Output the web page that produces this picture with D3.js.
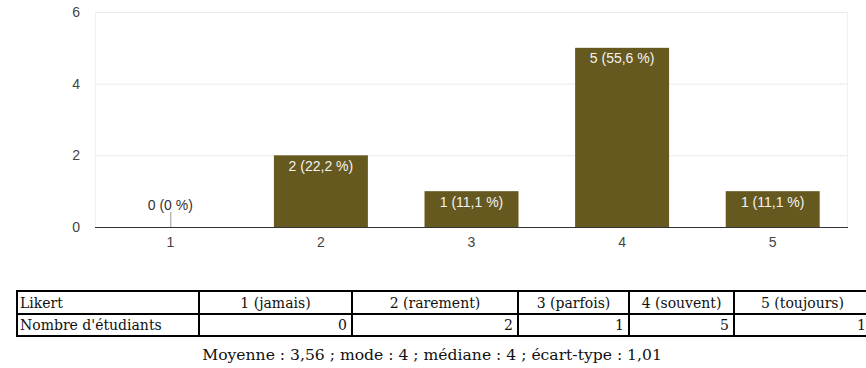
<!DOCTYPE html>
<html>
<head>
<meta charset="utf-8">
<script src="https://cdn.jsdelivr.net/npm/d3@7"></script>
<style>
  html, body { margin: 0; padding: 0; background: #fff; }
  svg { display: block; }
</style>
</head>
<body>
<svg id="chart" width="866" height="368"></svg>
<script>
// ---- data ----
const categories = ["1", "2", "3", "4", "5"];
const counts = [0, 2, 1, 5, 1];
const percents = ["0 %", "22,2 %", "11,1 %", "55,6 %", "11,1 %"];
const yTicks = [0, 2, 4, 6];
const tableHeader = ["Likert", "1 (jamais)", "2 (rarement)", "3 (parfois)", "4 (souvent)", "5 (toujours)"];
const tableRowLabel = "Nombre d'étudiants";
const tableValues = [0, 2, 1, 5, 1];
const summary = "Moyenne : 3,56 ; mode : 4 ; médiane : 4 ; écart-type : 1,01";

// ---- layout ----
const svg = d3.select("#chart");
const plot = { left: 95, right: 848, top: 12, bottom: 227 };
const barColor = "#66591f";
const sans = "Arial, 'Liberation Sans', sans-serif";

const x = d3.scaleBand().domain(categories)
  .range([plot.left, plot.right]).paddingInner(0.376).paddingOuter(0.188);
const y = d3.scaleLinear().domain([0, 6]).range([plot.bottom, plot.top]);

// gridlines
svg.append("g").selectAll("line").data(yTicks.filter(d => d > 0)).join("line")
  .attr("x1", plot.left).attr("x2", plot.right)
  .attr("y1", d => y(d) + 0.5).attr("y2", d => y(d) + 0.5)
  .attr("stroke", "#ebebeb").attr("stroke-width", 1);
// plot side borders
[plot.left, plot.right - 1].forEach(px => {
  svg.append("line").attr("x1", px + 0.5).attr("x2", px + 0.5)
    .attr("y1", plot.top).attr("y2", plot.bottom)
    .attr("stroke", "#f0f0f0");
});

// y axis labels
const yAxis = d3.axisLeft(y).tickValues(yTicks).tickFormat(d3.format("d")).tickSize(0).tickPadding(0);
const gy = svg.append("g").attr("transform", `translate(80,0)`).call(yAxis);
gy.select(".domain").remove();
gy.selectAll("text").attr("font-family", sans)
  .attr("font-size", 14).attr("fill", "#444");

// bars
const data = categories.map((c, i) => ({ c, v: counts[i], p: percents[i] }));
svg.append("g").selectAll("rect").data(data.filter(d => d.v > 0)).join("rect")
  .attr("x", d => x(d.c)).attr("width", x.bandwidth())
  .attr("y", d => y(d.v)).attr("height", d => y(0) - y(d.v))
  .attr("fill", barColor);

// zero bar marker
data.filter(d => d.v === 0).forEach(d => {
  const cx = x(d.c) + x.bandwidth() / 2;
  svg.append("line").attr("x1", cx + 0.5).attr("x2", cx + 0.5)
    .attr("y1", y(0) - 15).attr("y2", y(0)).attr("stroke", "#999");
  svg.append("text").attr("x", cx).attr("y", y(0) - 17)
    .attr("text-anchor", "middle")
    .attr("font-family", sans)
    .attr("font-size", 14).attr("fill", "#333")
    .text(`${d.v} (${d.p})`);
});

// bar labels
svg.append("g").selectAll("text").data(data.filter(d => d.v > 0)).join("text")
  .attr("x", d => x(d.c) + x.bandwidth() / 2)
  .attr("y", d => y(d.v) + 15.5)
  .attr("text-anchor", "middle")
  .attr("font-family", sans)
  .attr("font-size", 14).attr("fill", "#f3f3f3")
  .text(d => `${d.v} (${d.p})`);

// baseline axis
svg.append("line").attr("x1", plot.left).attr("x2", plot.right)
  .attr("y1", y(0) + 0.5).attr("y2", y(0) + 0.5)
  .attr("stroke", "#333").attr("stroke-width", 1.2);

// x axis labels
const xAxis = d3.axisBottom(x).tickSize(0).tickPadding(0);
const gx = svg.append("g").attr("transform", `translate(0,${y(0) + 10})`).call(xAxis);
gx.select(".domain").remove();
gx.selectAll("text").attr("font-family", sans)
  .attr("font-size", 14).attr("fill", "#444");

// ---- table ----
const colEdges = [17, 199, 352, 518, 629, 734, 871];
const rowEdges = [291, 314, 336];
const serif = "'DejaVu Serif', 'Liberation Serif', serif";
const tfs = 14;
const tg = svg.append("g");
rowEdges.forEach(ry => {
  tg.append("line").attr("x1", colEdges[0] - 1).attr("x2", colEdges[colEdges.length - 1])
    .attr("y1", ry).attr("y2", ry).attr("stroke", "#000").attr("stroke-width", 2);
});
colEdges.forEach(cx => {
  tg.append("line").attr("x1", cx).attr("x2", cx)
    .attr("y1", rowEdges[0] - 1).attr("y2", rowEdges[2] + 1)
    .attr("stroke", "#000").attr("stroke-width", 2);
});
tableHeader.forEach((t, i) => {
  const first = i === 0;
  tg.append("text")
    .attr("x", first ? colEdges[0] + 3 : (colEdges[i] + colEdges[i + 1]) / 2)
    .attr("y", 308)
    .attr("text-anchor", first ? "start" : "middle")
    .attr("font-family", serif).attr("font-size", tfs).attr("fill", "#111")
    .text(t);
});
tg.append("text").attr("x", colEdges[0] + 3).attr("y", 330)
  .attr("font-family", serif).attr("font-size", tfs).attr("fill", "#111")
  .text(tableRowLabel);
tableValues.forEach((v, i) => {
  tg.append("text").attr("x", colEdges[i + 2] - 5).attr("y", 330)
    .attr("text-anchor", "end")
    .attr("font-family", serif).attr("font-size", tfs).attr("fill", "#111")
    .text(v);
});

// summary
svg.append("text").attr("x", 432).attr("y", 360).attr("text-anchor", "middle")
  .attr("font-family", serif).attr("font-size", 15.6).attr("fill", "#111")
  .text(summary);
</script>
</body>
</html>
